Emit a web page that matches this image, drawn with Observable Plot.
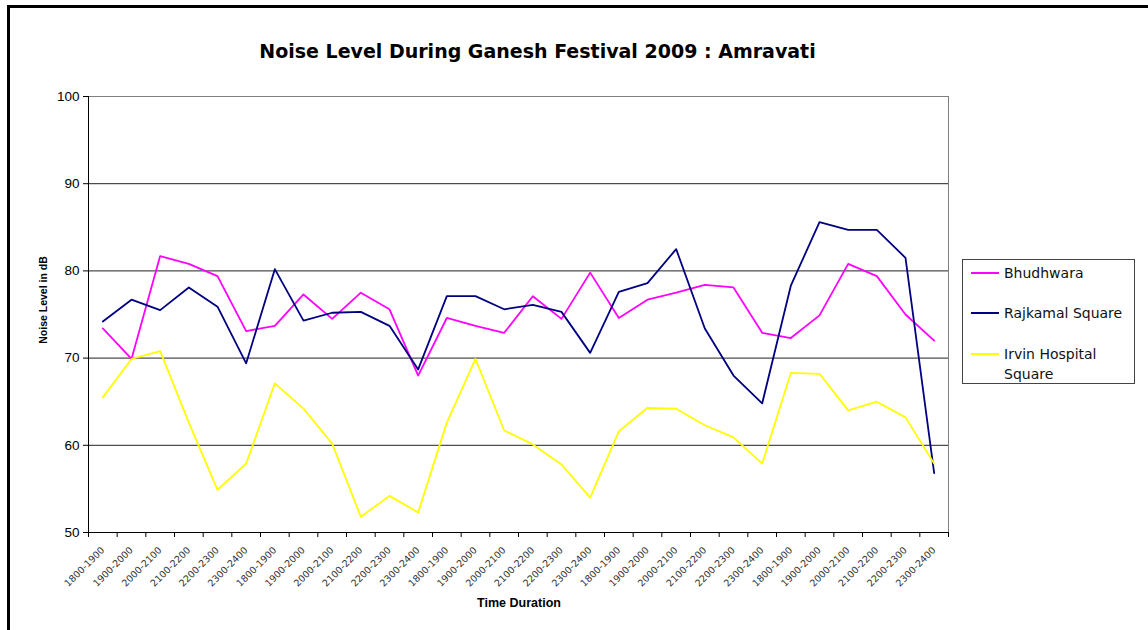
<!DOCTYPE html>
<html><head><meta charset="utf-8">
<script src="https://cdn.jsdelivr.net/npm/d3@7"></script>
<script src="https://cdn.jsdelivr.net/npm/@observablehq/plot@0.6"></script>
<style>
body{margin:0;background:#fff;}
#wrap{position:relative;width:1148px;height:630px;overflow:hidden;background:#fff;}
#border{position:absolute;left:7px;top:5px;width:1200px;height:700px;border:3px solid #000;box-sizing:border-box;}
#title{position:absolute;left:0;width:1075px;top:40px;text-align:center;font:bold 19px "DejaVu Sans",sans-serif;color:#000;}
#ylabel{position:absolute;left:43px;top:300px;transform:translate(-50%,-50%) rotate(-90deg);white-space:nowrap;font:bold 10.5px "Liberation Sans",sans-serif;}
#xlabel{position:absolute;left:519px;top:603px;transform:translate(-50%,-50%);white-space:nowrap;font:bold 12.5px "Liberation Sans",sans-serif;}
#chart{position:absolute;left:0;top:0;}
#legend{position:absolute;left:962px;top:259px;width:173px;height:125px;border:1px solid #444;box-sizing:border-box;background:#fff;font:14px "DejaVu Sans",sans-serif;color:#111;}
.row{position:absolute;left:8px;display:flex;align-items:flex-start;}
.sw{width:28px;height:2px;margin-top:9px;margin-right:5px;flex:none;}
.lt{line-height:20px;width:128px;}
</style>
</head><body>
<div id="wrap">
  <div id="border"></div>
  <div id="title"></div>
  <div id="chart"></div>
  <div id="ylabel"></div>
  <div id="xlabel"></div>
  <div id="legend"></div>
</div>
<script>
// ---- data ----
const titleText = "Noise Level During Ganesh Festival 2009 : Amravati";
const yTitle = "Noise Level in dB";
const xTitle = "Time Duration";
const slots = ["1800-1900","1900-2000","2000-2100","2100-2200","2200-2300","2300-2400"];
const categories = [].concat(slots, slots, slots, slots, slots);
const seriesNames = ["Bhudhwara","Rajkamal Square","Irvin Hospital Square"];
const bhudhwara = [73.4,69.9,81.7,80.8,79.4,73.1, 73.7,77.3,74.5,77.5,75.6,68.0, 74.6,73.7,72.9,77.1,74.5,79.8, 74.6,76.7,77.5,78.4,78.1,72.9, 72.3,74.9,80.8,79.4,75.0,72.0];
const rajkamal  = [74.2,76.7,75.5,78.1,75.9,69.4, 80.2,74.3,75.2,75.3,73.7,68.7, 77.1,77.1,75.6,76.1,75.3,70.6, 77.6,78.6,82.5,73.4,68.0,64.8, 78.3,85.6,84.7,84.7,81.5,56.8];
const irvin     = [65.5,69.9,70.8,62.6,54.9,57.9, 67.1,64.2,60.2,51.8,54.2,52.3, 62.6,69.9,61.7,60.1,57.8,54.0, 61.6,64.3,64.2,62.3,60.9,57.9, 68.3,68.2,64.0,65.0,63.2,57.9];
const yTicks = [50,60,70,80,90,100];
const gridTicks = [60,70,80,90];

// ---- styles ----
const seriesColors = ["#FF00FF","#000080","#FFFF00"];

const seriesValues = [bhudhwara, rajkamal, irvin];
const rows = [];
seriesNames.forEach((s, k) => seriesValues[k].forEach((v, i) => rows.push({series: s, pos: i + 0.5, value: v})));
const labelPos = categories.map((_, i) => i + 0.5);
const boundaries = d3.range(categories.length + 1);

const chart = Plot.plot({
  width: 1148, height: 630,
  marginLeft: 88, marginRight: 200, marginTop: 96, marginBottom: 98,
  style: {background: "transparent", fontFamily: "Liberation Sans, sans-serif", color: "#000"},
  x: {domain: [0, categories.length]},
  y: {domain: [50, 100]},
  color: {domain: seriesNames, range: seriesColors},
  marks: [
    Plot.ruleY(gridTicks, {stroke: "#222", strokeWidth: 1}),
    Plot.frame({stroke: "#808080", strokeWidth: 1}),
    Plot.axisY(yTicks, {tickSize: 5, tickPadding: 4, fontSize: 13.5, label: null, stroke: "#000"}),
    Plot.axisX(boundaries, {tickSize: 5, tickFormat: () => "", label: null}),
    Plot.axisX(labelPos, {tickSize: 0, tickPadding: 16, tickRotate: -45, fontSize: 9.5, fill: "#333",
      fontFamily: "DejaVu Sans, sans-serif", tickFormat: d => categories[Math.floor(d)], label: null}),
    Plot.ruleX([0], {stroke: "#000"}),
    Plot.ruleY([50], {stroke: "#000"}),
    Plot.line(rows, {x: "pos", y: "value", stroke: "series", z: "series", strokeWidth: 1.8})
  ]
});
document.getElementById("chart").appendChild(chart);
document.getElementById("title").textContent = titleText;
document.getElementById("ylabel").textContent = yTitle;
document.getElementById("xlabel").textContent = xTitle;

const legend = document.getElementById("legend");
const rowTops = [3, 43, 84];
seriesNames.forEach((s, k) => {
  const r = document.createElement("div");
  r.className = "row";
  r.style.top = rowTops[k] + "px";
  const sw = document.createElement("div");
  sw.className = "sw";
  sw.style.background = seriesColors[k];
  const t = document.createElement("div");
  t.className = "lt";
  t.textContent = s;
  r.appendChild(sw); r.appendChild(t);
  legend.appendChild(r);
});
</script>
</body></html>
